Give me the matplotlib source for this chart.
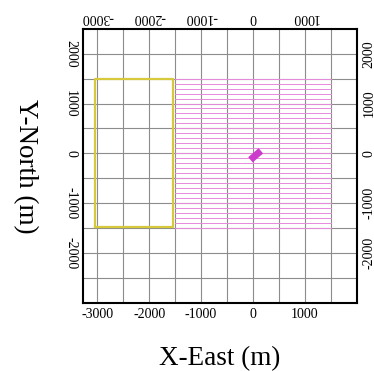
import matplotlib
matplotlib.use('Agg')
import matplotlib.pyplot as plt
import numpy as np

# survey layout
src_box_x = [-3050, -1550, -1550, -3050, -3050]
src_box_y = [-1480, -1480, 1500, 1500, -1480]
rec_line_x = [-1500, 1500]
rec_line_y = list(range(-1500, 1501, 100))
well_x = [-50, 150]
well_y = [-130, 50]

major_ticks = [-3000, -2000, -1000, 0, 1000, 2000]
grid_ticks = list(range(-3000, 2001, 500))

plt.rcParams['font.family'] = ['Liberation Serif', 'DejaVu Serif']
plt.rcParams['axes.unicode_minus'] = False

fig = plt.figure(figsize=(3.74, 3.71), dpi=100)
ax = fig.add_axes([0.221, 0.184, 0.7335, 0.737])

for y in rec_line_y:
    ax.plot(rec_line_x, [y, y], color='#e68bdc', lw=0.7, zorder=2)
ax.plot(src_box_x, src_box_y, color='#d6c93c', lw=1.6, zorder=3)
ax.plot(well_x, well_y, color='#cc3ccc', lw=5, solid_capstyle='butt', zorder=4)

ax.set_xlim(-3280, 1710)
ax.set_ylim(-2490, 2490)

ax.set_xticks(major_ticks[:-1])
ax.set_yticks([-2000, -1000, 0, 1000, 2000])
ax.set_xticks(grid_ticks, minor=True)
ax.set_yticks(grid_ticks, minor=True)
ax.grid(True, which='both', color='#8c8c8c', lw=0.8, zorder=1)
ax.set_axisbelow(True)

ax.tick_params(which='both', length=0, pad=4, labelsize=10,
               labeltop=True, labelright=True)
for t in ax.xaxis.get_major_ticks():
    t.label2.set_rotation(180)
for t in ax.yaxis.get_major_ticks():
    t.label1.set_rotation(-90)
    t.label1.set_va('center')
    t.label2.set_rotation(90)
    t.label2.set_va('center')

for s in ax.spines.values():
    s.set_linewidth(1.5)
    s.set_zorder(5)

ax.set_xlabel('X-East (m)', fontsize=19.5, labelpad=18)
ax.set_ylabel('Y-North (m)', fontsize=19.5, rotation=-90, labelpad=28, va='center')

fig.savefig('out.png', dpi=100)
